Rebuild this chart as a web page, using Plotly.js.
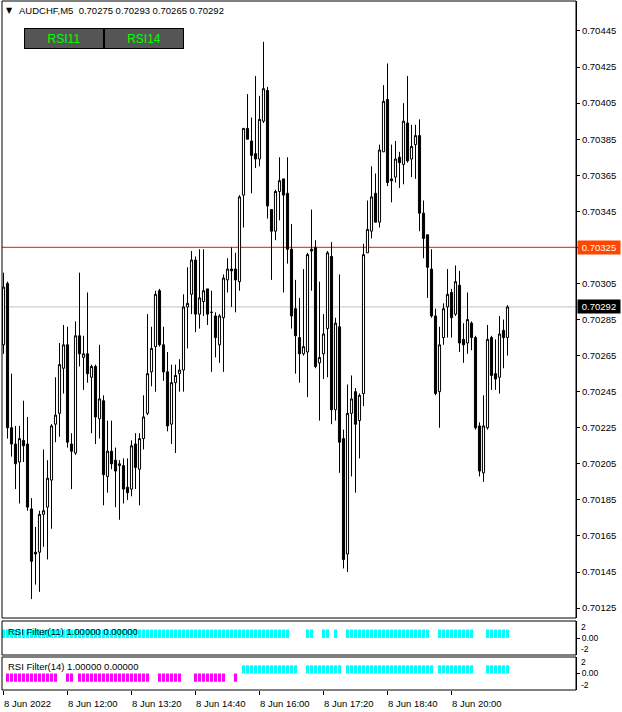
<!DOCTYPE html>
<html><head><meta charset="utf-8">
<script src="https://cdn.plot.ly/plotly-3.0.1.min.js"></script>
<style>html,body{margin:0;padding:0;background:#fff;}#chart{width:622px;height:712px;}</style>
</head><body><div id="chart"></div>
<script>
const symbolTitle = "AUDCHF,M5  0.70275 0.70293 0.70265 0.70292";
const openP = [0.70271,0.70305,0.70225,0.70216,0.70206,0.70218,0.70216,0.70180,0.70156,0.70156,
0.70177,0.70181,0.70196,0.70227,0.70233,0.70258,0.70271,0.70216,0.70211,0.70276,
0.70264,0.70266,0.70253,0.70259,0.70230,0.70240,0.70198,0.70212,0.70207,0.70204,
0.70204,0.70192,0.70191,0.70216,0.70202,0.70219,0.70233,0.70256,0.70270,0.70301,
0.70271,0.70256,0.70227,0.70250,0.70255,0.70257,0.70292,0.70299,0.70318,0.70288,
0.70295,0.70302,0.70289,0.70287,0.70271,0.70286,0.70307,0.70313,0.70313,0.70306,
0.70354,0.70391,0.70384,0.70377,0.70374,0.70395,0.70412,0.70346,0.70334,0.70356,
0.70363,0.70355,0.70324,0.70291,0.70275,0.70266,0.70267,0.70324,0.70325,0.70261,
0.70266,0.70280,0.70320,0.70235,0.70281,0.70219,0.70155,0.70233,0.70245,0.70229,
0.70244,0.70322,0.70334,0.70355,0.70339,0.70378,0.70407,0.70363,0.70364,0.70375,
0.70371,0.70394,0.70374,0.70382,0.70387,0.70344,0.70332,0.70313,0.70287,0.70245,
0.70275,0.70292,0.70300,0.70288,0.70304,0.70274,0.70272,0.70283,0.70275,0.70226,
0.70200,0.70225,0.70275,0.70255,0.70253,0.70279,0.70275];
const highP = [0.70311,0.70306,0.70255,0.70226,0.70226,0.70240,0.70231,0.70186,0.70170,0.70179,
0.70213,0.70207,0.70227,0.70253,0.70272,0.70282,0.70281,0.70222,0.70284,0.70311,
0.70276,0.70300,0.70260,0.70260,0.70271,0.70243,0.70229,0.70229,0.70214,0.70207,
0.70208,0.70208,0.70218,0.70222,0.70222,0.70243,0.70288,0.70281,0.70301,0.70302,
0.70281,0.70267,0.70260,0.70260,0.70263,0.70299,0.70314,0.70323,0.70320,0.70324,
0.70324,0.70302,0.70301,0.70289,0.70288,0.70310,0.70319,0.70325,0.70322,0.70354,
0.70391,0.70410,0.70397,0.70420,0.70409,0.70439,0.70414,0.70346,0.70357,0.70375,
0.70363,0.70375,0.70338,0.70307,0.70297,0.70313,0.70322,0.70346,0.70329,0.70306,
0.70288,0.70323,0.70328,0.70286,0.70310,0.70224,0.70249,0.70254,0.70247,0.70244,
0.70327,0.70351,0.70370,0.70366,0.70382,0.70415,0.70427,0.70382,0.70384,0.70378,
0.70405,0.70420,0.70393,0.70393,0.70396,0.70351,0.70332,0.70324,0.70291,0.70281,
0.70294,0.70313,0.70302,0.70315,0.70312,0.70283,0.70300,0.70284,0.70276,0.70228,
0.70243,0.70282,0.70276,0.70274,0.70287,0.70285,0.70293];
const lowP = [0.70266,0.70219,0.70209,0.70191,0.70183,0.70206,0.70179,0.70130,0.70138,0.70134,
0.70159,0.70152,0.70169,0.70217,0.70220,0.70244,0.70214,0.70191,0.70210,0.70259,
0.70246,0.70250,0.70222,0.70216,0.70219,0.70182,0.70189,0.70202,0.70181,0.70174,
0.70183,0.70185,0.70187,0.70191,0.70182,0.70213,0.70232,0.70248,0.70245,0.70270,
0.70251,0.70223,0.70216,0.70211,0.70245,0.70245,0.70269,0.70288,0.70278,0.70280,
0.70287,0.70282,0.70256,0.70264,0.70261,0.70256,0.70300,0.70292,0.70289,0.70301,
0.70336,0.70385,0.70355,0.70369,0.70370,0.70394,0.70341,0.70307,0.70329,0.70340,
0.70300,0.70316,0.70280,0.70255,0.70250,0.70265,0.70242,0.70301,0.70258,0.70229,
0.70252,0.70253,0.70227,0.70229,0.70200,0.70147,0.70145,0.70198,0.70189,0.70208,
0.70237,0.70322,0.70330,0.70339,0.70336,0.70378,0.70359,0.70350,0.70361,0.70358,
0.70360,0.70372,0.70364,0.70363,0.70334,0.70319,0.70297,0.70286,0.70243,0.70225,
0.70271,0.70275,0.70275,0.70287,0.70267,0.70261,0.70266,0.70268,0.70224,0.70198,
0.70195,0.70224,0.70246,0.70246,0.70244,0.70258,0.70265];
const closeP = [0.70303,0.70225,0.70216,0.70205,0.70219,0.70215,0.70181,0.70151,0.70155,0.70177,
0.70179,0.70197,0.70226,0.70232,0.70260,0.70271,0.70217,0.70212,0.70276,0.70266,
0.70266,0.70255,0.70259,0.70231,0.70241,0.70199,0.70212,0.70205,0.70201,0.70205,
0.70191,0.70189,0.70215,0.70203,0.70219,0.70231,0.70255,0.70269,0.70299,0.70271,
0.70256,0.70226,0.70250,0.70254,0.70257,0.70292,0.70294,0.70318,0.70288,0.70297,
0.70301,0.70288,0.70289,0.70275,0.70287,0.70308,0.70313,0.70312,0.70307,0.70353,
0.70391,0.70385,0.70376,0.70374,0.70396,0.70413,0.70348,0.70334,0.70356,0.70362,
0.70354,0.70324,0.70287,0.70276,0.70266,0.70270,0.70321,0.70323,0.70259,0.70264,
0.70277,0.70322,0.70235,0.70283,0.70217,0.70152,0.70233,0.70241,0.70227,0.70243,
0.70321,0.70335,0.70353,0.70339,0.70379,0.70406,0.70361,0.70362,0.70374,0.70372,
0.70395,0.70373,0.70381,0.70387,0.70344,0.70330,0.70314,0.70287,0.70244,0.70271,
0.70291,0.70299,0.70286,0.70306,0.70272,0.70271,0.70285,0.70275,0.70225,0.70201,
0.70226,0.70274,0.70254,0.70252,0.70277,0.70275,0.70292];
const rsi11Up = [1,1,1,1,1,1,1,1,1,1, 1,1,1,1,1,1,1,1,1,1, 1,1,1,1,1,1,1,1,1,1,
1,1,1,1,1,1,1,1,1,1, 1,1,1,1,1,1,1,1,1,1, 1,1,1,1,1,1,1,1,1,1,
1,1,1,1,1,1,1,1,1,1, 1,1,0,0,0,0,1,1,0,0, 1,1,0,1,0,0,1,1,1,1,
1,1,1,1,1,1,1,1,1,1, 1,1,1,1,1,1,1,0,0,1, 1,1,1,1,1,1,1,1,0,0,
0,1,1,1,1,1,1];
const rsi14Up = [0,0,0,0,0,0,0,0,0,0, 0,0,0,0,0,0,0,0,0,0, 0,0,0,0,0,0,0,0,0,0,
0,0,0,0,0,0,0,0,0,0, 0,0,0,0,0,0,0,0,0,0, 0,0,0,0,0,0,0,0,0,0,
1,1,1,1,1,1,1,1,1,1, 1,1,1,1,0,0,1,1,1,1, 1,1,1,1,1,0,1,1,1,1,
1,1,1,1,1,1,1,1,1,1, 1,1,1,1,1,1,1,1,0,1, 1,1,1,1,1,1,1,1,0,0,
0,1,1,1,1,1,1];
const rsi14Down = [0,-1,-1,-1,-1,-1,-1,-1,-1,-1, -1,-1,-1,-1,0,0,-1,-1,0,-1, -1,-1,-1,-1,-1,-1,-1,-1,-1,-1,
-1,-1,-1,-1,-1,-1,-1,0,0,-1, -1,-1,-1,-1,-1,0,0,0,-1,-1, -1,-1,-1,-1,-1,-1,0,0,-1,0,
0,0,0,0,0,0,0,0,0,0, 0,0,0,0,0,0,0,0,0,0, 0,0,0,0,0,0,0,0,0,0,
0,0,0,0,0,0,0,0,0,0, 0,0,0,0,0,0,0,0,0,0, 0,0,0,0,0,0,0,0,0,0,
0,0,0,0,0,0,0];
const timeLabels = ["8 Jun 2022","8 Jun 12:00","8 Jun 13:20","8 Jun 14:40","8 Jun 16:00","8 Jun 17:20","8 Jun 18:40","8 Jun 20:00"];
const timeLabelBars = [0,16,32,48,64,80,96,112];
const priceTicks = [0.70125,0.70145,0.70165,0.70185,0.70205,0.70225,0.70245,0.70265,0.70285,0.70305,0.70325,0.70345,0.70365,0.70385,0.70405,0.70425,0.70445];
const levelLine = 0.70325;
const bidPrice = closeP[closeP.length-1];
const panelMax = 2, panelMin = -2;

const idx = closeP.map((_, i) => i);
const nz = a => a.map(v => v === 0 ? null : v);

// pixel helpers (plot area: x 2..576, y 1..690)
const PX0 = 2, PW = 574, PY1 = 690, PH = 689;
const px = p => (p - PX0) / PW;
const py = p => (PY1 - p) / PH;

const FONT = "Liberation Sans, Arial, sans-serif";
const traces = [
  {type:'candlestick', x: idx, open: openP, high: highP, low: lowP, close: closeP,
   xaxis:'x', yaxis:'y', whiskerwidth:0, hoverinfo:'skip', showlegend:false,
   increasing:{line:{color:'#000000', width:1}, fillcolor:'#ffffff'},
   decreasing:{line:{color:'#000000', width:1}, fillcolor:'#000000'}},
  {type:'bar', x: idx, y: nz(rsi11Up), xaxis:'x', yaxis:'y2', width:0.75,
   marker:{color:'#00FFFF', line:{width:0}}, hoverinfo:'skip', showlegend:false},
  {type:'bar', x: idx, y: nz(rsi14Up), xaxis:'x', yaxis:'y3', width:0.75,
   marker:{color:'#00FFFF', line:{width:0}}, hoverinfo:'skip', showlegend:false},
  {type:'bar', x: idx, y: nz(rsi14Down), xaxis:'x', yaxis:'y3', width:0.75,
   marker:{color:'#FF00FF', line:{width:0}}, hoverinfo:'skip', showlegend:false}
];

const dMain = [py(618), 1], d1 = [py(655), py(621)], d2 = [0, py(657)];
const panelAxis = (dom) => ({domain:dom, anchor:'x', side:'right', range:[panelMin, panelMax],
    showgrid:false, zeroline:false, showline:true, linecolor:'#000', linewidth:1,
    ticks:'outside', ticklen:3, tickcolor:'#000', tickvals:[0], ticktext:['0.00'],
    tickfont:{family:FONT, size:8.5, color:'#000'}});
const sideLabel = (txt, yPix) => ({xref:'paper', yref:'paper', x:px(580), y:py(yPix), xanchor:'left', yanchor:'middle',
    showarrow:false, text:txt, borderpad:0, font:{family:FONT, size:8.5, color:'#000'}});
const layout = {
  width:622, height:712, margin:{l:2, r:46, t:1, b:22},
  paper_bgcolor:'#ffffff', plot_bgcolor:'#ffffff',
  font:{family:FONT, size:9.5, color:'#000000'},
  showlegend:false, hovermode:false, barmode:'overlay', boxgap:0.25,
  xaxis:{domain:[0,1], anchor:'y3', range:[-0.375, 143.125], rangeslider:{visible:false},
    showgrid:false, zeroline:false, showline:false, ticks:'outside', ticklen:4, tickcolor:'#000',
    ticklabelstandoff:5,
    tickvals: timeLabelBars, ticktext: timeLabels, ticklabelposition:'outside right',
    tickfont:{family:FONT, size:9.5, color:'#000'}},
  yaxis:{domain:dMain, anchor:'x', side:'right', range:[0.7011952, 0.7046163],
    showgrid:false, zeroline:false, showline:true, linecolor:'#000', linewidth:1,
    ticks:'outside', ticklen:3, tickcolor:'#000',
    tickvals: priceTicks, ticktext: priceTicks.map(v => v.toFixed(5)),
    tickfont:{family:FONT, size:9.5, color:'#000'}},
  yaxis2: panelAxis(d1),
  yaxis3: panelAxis(d2),
  shapes:[
    {type:'line', xref:'paper', yref:'y', x0:0, x1:1, y0:bidPrice, y1:bidPrice, line:{color:'#C0C0C0', width:1}, layer:'below'},
    {type:'line', xref:'paper', yref:'y', x0:0, x1:1, y0:levelLine, y1:levelLine, line:{color:'#FF4500', width:1.2}, layer:'below'},
    {type:'rect', xref:'paper', yref:'paper', x0:0, x1:1, y0:dMain[0], y1:dMain[1], line:{color:'#000', width:1}},
    {type:'rect', xref:'paper', yref:'paper', x0:0, x1:1, y0:d1[0], y1:d1[1], line:{color:'#000', width:1}},
    {type:'rect', xref:'paper', yref:'paper', x0:0, x1:1, y0:d2[0], y1:d2[1], line:{color:'#000', width:1}}
  ],
  annotations:[
    {xref:'paper', yref:'paper', x:px(4), y:py(10), xanchor:'left', yanchor:'middle', showarrow:false,
     text:'▼', font:{family:'DejaVu Sans', size:8, color:'#000'}},
    {xref:'paper', yref:'paper', x:px(17), y:py(10), xanchor:'left', yanchor:'middle', showarrow:false,
     text:symbolTitle, font:{family:FONT, size:9.5, color:'#000'}},
    {xref:'paper', yref:'paper', x:px(63.5), y:py(38.5), xanchor:'center', yanchor:'middle', showarrow:false,
     text:'RSI11', width:76, height:17, bgcolor:'#555555', bordercolor:'#000', borderwidth:1, borderpad:1,
     font:{family:FONT, size:12, color:'#00FF00'}},
    {xref:'paper', yref:'paper', x:px(143.5), y:py(38.5), xanchor:'center', yanchor:'middle', showarrow:false,
     text:'RSI14', width:76, height:17, bgcolor:'#555555', bordercolor:'#000', borderwidth:1, borderpad:1,
     font:{family:FONT, size:12, color:'#00FF00'}},
    {xref:'paper', yref:'y', x:1, y:levelLine, xanchor:'left', yanchor:'middle', xshift:1, showarrow:false,
     text:levelLine.toFixed(5), bgcolor:'#FF4500', borderpad:1, width:40,
     font:{family:FONT, size:9.5, color:'#ffffff'}},
    {xref:'paper', yref:'y', x:1, y:bidPrice, xanchor:'left', yanchor:'middle', xshift:1, showarrow:false,
     text:bidPrice.toFixed(5), bgcolor:'#000000', borderpad:1, width:40,
     font:{family:FONT, size:9.5, color:'#ffffff'}},
    {xref:'paper', yref:'paper', x:px(6), y:py(631), xanchor:'left', yanchor:'middle', showarrow:false,
     text:'RSI Filter(11) 1.00000 0.00000', font:{family:FONT, size:9.5, color:'#000'}},
    {xref:'paper', yref:'paper', x:px(6), y:py(666), xanchor:'left', yanchor:'middle', showarrow:false,
     text:'RSI Filter(14) 1.00000 0.00000', font:{family:FONT, size:9.5, color:'#000'}},
    sideLabel(String(panelMax), 627), sideLabel(String(panelMin), 649),
    sideLabel(String(panelMax), 662), sideLabel(String(panelMin), 685)
  ]
};
Plotly.newPlot('chart', traces, layout, {displayModeBar:false, staticPlot:true});
</script></body></html>
